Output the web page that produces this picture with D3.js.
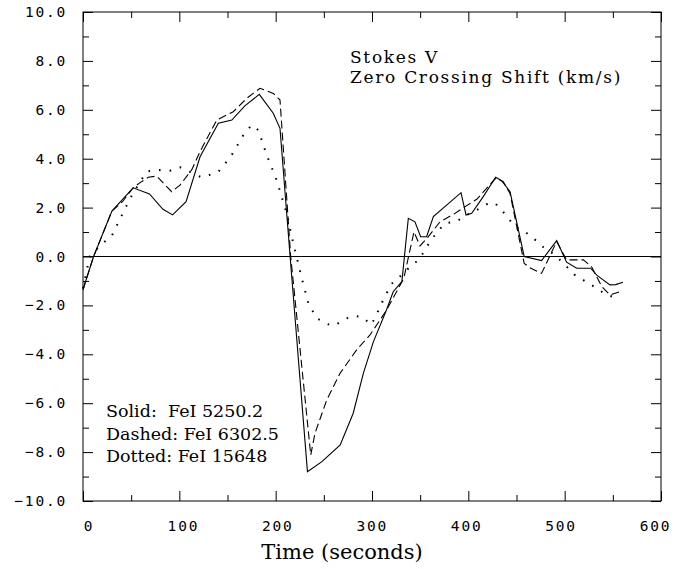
<!DOCTYPE html>
<html>
<head>
<meta charset="utf-8">
<script src="https://cdn.jsdelivr.net/npm/d3@7"></script>
<style>
  html, body { margin: 0; padding: 0; background: #fff; }
  svg { display: block; }
  text { fill: #000; }
</style>
</head>
<body>
<svg id="chart" width="688" height="569"></svg>
<script>
// ---- Data (time in seconds, shift in km/s) ----
const solidT = [0, 11, 30, 52, 69, 83, 93, 107, 121.5, 140.5, 154.5, 168, 183, 197.5, 204.5, 215, 233, 248, 267, 280.5, 291, 301.5, 315, 322, 331, 337.7, 344.6, 350.5, 356.7, 363.7, 392.4, 397.6, 403.5, 415.5, 428.4, 434.6, 443.3, 458, 476, 491.7, 502, 512.5, 527, 533.3, 547, 553, 560.5];
const solidV = [-1.35, 0, 1.86, 2.81, 2.56, 1.93, 1.70, 2.24, 4.08, 5.45, 5.58, 6.16, 6.63, 5.86, 5.24, 0, -8.80, -8.39, -7.71, -6.41, -4.78, -3.48, -2.19, -1.44, -1.03, 1.56, 1.42, 0.81, 0.81, 1.63, 2.61, 1.70, 1.77, 2.45, 3.24, 3.10, 2.65, 0, -0.17, 0.65, -0.23, -0.48, -0.48, -0.76, -1.16, -1.15, -1.05];

const dashedT = [0, 11, 30, 41, 51.6, 59.2, 67.8, 76.5, 92, 100.7, 112.8, 121.5, 138.8, 156, 170, 183.7, 197.6, 204.5, 215.6, 236.4, 240.8, 253, 266.8, 284, 297.9, 315, 333, 343.6, 349.8, 358.5, 370.6, 384.4, 396.6, 408.7, 428.4, 436.3, 443.3, 458, 463.9, 476, 491.7, 502, 519.4, 528, 538.5, 547, 556.5];
const dashedV = [-1.35, 0, 1.86, 2.24, 2.79, 3.02, 3.24, 3.29, 2.65, 2.92, 3.54, 4.29, 5.58, 5.92, 6.47, 6.88, 6.67, 6.40, 0, -8.12, -7.23, -5.87, -4.78, -3.82, -3.21, -2.2, -0.89, 1.01, 0.43, 0.81, 1.42, 1.72, 2.04, 2.34, 3.2, 3.06, 2.58, -0.28, -0.46, -0.69, 0.61, -0.14, -0.14, -0.42, -1.23, -1.57, -1.45];

const dottedT = [0, 7, 18.4, 29.8, 40.8, 48.1, 52.9, 66, 77.1, 90.3, 100.7, 123, 131, 140.5, 146.4, 154.4, 166.5, 175, 182, 190.7, 201, 211.4, 218.3, 226.3, 233.9, 242.6, 251.2, 258.2, 265, 273.7, 282.3, 291, 298.6, 303.1, 308.3, 316, 322, 330.8, 339.5, 349.2, 360.2, 368.9, 375.8, 387.2, 398.3, 408.7, 421.8, 427.7, 434.6, 448.5, 458.8, 465.8, 477.9, 490, 510.7, 528, 543.6, 557.5];
const dottedV = [-1.3, 0, 0.47, 0.84, 1.73, 2.31, 2.65, 3.47, 3.54, 3.51, 3.65, 3.24, 3.33, 3.47, 3.74, 4.15, 4.97, 5.38, 5.17, 4.15, 3.13, 1.77, 0.54, -0.76, -1.91, -2.53, -2.71, -2.84, -2.73, -2.53, -2.43, -2.49, -2.80, -2.53, -2.05, -1.44, -1.03, -0.76, -0.42, -0.11, 0.61, 1.06, 1.36, 1.42, 1.70, 1.90, 2.20, 2.18, 1.90, 1.22, 1.01, 0.81, 0.38, 0.06, -0.76, -1.17, -1.57, -1.74];

const xTicksMajor = [0, 100, 200, 300, 400, 500, 600];
const xTicksMinor = [50, 150, 250, 350, 450, 550];
const yTicksMajor = [-10, -8, -6, -4, -2, 0, 2, 4, 6, 8, 10];
const yTicksMinor = [-9, -7, -5, -3, -1, 1, 3, 5, 7, 9];

const titleLines = ["Stokes V", "Zero Crossing Shift (km/s)"];
const legendLines = ["Solid:  FeI 5250.2", "Dashed: FeI 6302.5", "Dotted: FeI 15648"];
const xTitle = "Time (seconds)";

// ---- Layout ----
const svg = d3.select("#chart");
const L = 83, R = 661, T = 12, B = 501;
const x = d3.scaleLinear().domain([0, 600]).range([L, R]);
const xLab = d3.scaleLinear().domain([0, 600]).range([89, 655.5]);
const y = d3.scaleLinear().domain([-10, 10]).range([B, T]);

// frame
svg.append("rect").attr("x", L).attr("y", T).attr("width", R - L).attr("height", B - T)
  .attr("fill", "none").attr("stroke", "#000").attr("stroke-width", 1);

function tickAxis(axisFn, scale, vals, size, transform) {
  const g = svg.append("g").attr("transform", transform)
    .call(axisFn(scale).tickValues(vals).tickSize(size).tickFormat(""));
  g.select(".domain").remove();
  g.selectAll(".tick line").attr("stroke", "#000").attr("stroke-width", 1);
}
tickAxis(d3.axisBottom, x, xTicksMajor, -10, `translate(0,${B})`);
tickAxis(d3.axisBottom, x, xTicksMinor, -6, `translate(0,${B})`);
tickAxis(d3.axisTop, x, xTicksMajor, -10, `translate(0,${T})`);
tickAxis(d3.axisTop, x, xTicksMinor, -6, `translate(0,${T})`);
tickAxis(d3.axisLeft, y, yTicksMajor, -10, `translate(${L},0)`);
tickAxis(d3.axisLeft, y, yTicksMinor, -6, `translate(${L},0)`);
tickAxis(d3.axisRight, y, yTicksMajor, -10, `translate(${R},0)`);
tickAxis(d3.axisRight, y, yTicksMinor, -6, `translate(${R},0)`);

// tick labels
const monoFont = "'DejaVu Sans Mono', monospace";
svg.append("g").selectAll("text").data(yTicksMajor).join("text")
  .attr("x", 67).attr("y", d => y(d))
  .attr("text-anchor", "end").attr("dominant-baseline", "central")
  .style("font-family", monoFont).style("font-size", "14.5px").style("letter-spacing", "1.8px")
  .text(d => d3.format(".1f")(d));
svg.append("g").selectAll("text").data(xTicksMajor).join("text")
  .attr("x", d => xLab(d)).attr("y", 526)
  .attr("text-anchor", "middle").attr("dominant-baseline", "central")
  .style("font-family", monoFont).style("font-size", "14.5px").style("letter-spacing", "1.8px")
  .text(d => d);

// zero line
svg.append("line").attr("x1", L).attr("x2", R).attr("y1", y(0)).attr("y2", y(0))
  .attr("stroke", "#000").attr("stroke-width", 1);

// series
const line = d3.line().x(d => x(d[0])).y(d => y(d[1]));
function series(ts, vs, dash) {
  svg.append("path").datum(d3.zip(ts, vs))
    .attr("d", line).attr("fill", "none").attr("stroke", "#000")
    .attr("stroke-width", dash === "dot" ? 2 : 1.1)
    .attr("stroke-dasharray", dash === "dot" ? "1.6,9" : dash);
}
series(solidT, solidV, null);
series(dashedT, dashedV, "8,4");
series(dottedT, dottedV, "dot");

const serif = "'DejaVu Serif', serif";
// title
svg.append("g").selectAll("text").data(titleLines).join("text")
  .attr("x", 350).attr("y", (d, i) => 57 + i * 20)
  .attr("dominant-baseline", "central")
  .style("font-family", serif).style("font-size", "17px").style("letter-spacing", "1.7px")
  .text(d => d);

// legend
svg.append("g").selectAll("text").data(legendLines).join("text")
  .attr("x", 106).attr("y", (d, i) => 411 + i * 22.5)
  .attr("dominant-baseline", "central")
  .style("font-family", serif).style("font-size", "17.5px")
  .style("white-space", "pre")
  .text(d => d);

// x axis title
svg.append("text").attr("x", 342).attr("y", 552)
  .attr("text-anchor", "middle").attr("dominant-baseline", "central")
  .style("font-family", serif).style("font-size", "21px")
  .text(xTitle);
</script>
</body>
</html>
